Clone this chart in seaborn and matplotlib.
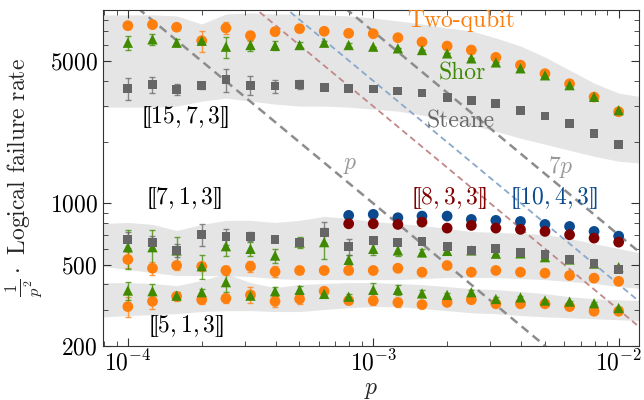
import numpy as np
import matplotlib
matplotlib.use("Agg")
import matplotlib.pyplot as plt
from matplotlib.ticker import FixedLocator, FixedFormatter, NullFormatter
import seaborn as sns

# physical error rate grid
p = [1.00e-4, 1.26e-4, 1.58e-4, 2.00e-4, 2.51e-4, 3.16e-4, 3.98e-4, 5.01e-4, 6.31e-4, 7.94e-4,
     1.00e-3, 1.26e-3, 1.58e-3, 2.00e-3, 2.51e-3, 3.16e-3, 3.98e-3, 5.01e-3, 6.31e-3, 7.94e-3, 1.00e-2]

# [[15,7,3]]
c15_two = [7470, 7560, 7340, 6300, 7280, 6670, 6980, 7220, 7010, 6850, 6820,
           6520, 6210, 5930, 5670, 5220, 4780, 4340, 3870, 3330, 2820]
c15_shor = [6160, 6400, 6160, 6300, 5890, 6000, 5950, 6000, 6160, 6000, 5890,
            5780, 5670, 5460, 5160, 4930, 4610, 4260, 3810, 3340, 2870]
c15_steane = [3673, 3845, 3630, 3780, 4070, 3810, 3770, 3845, 3715, 3673, 3645,
              3565, 3483, 3300, 3215, 3090, 2870, 2690, 2478, 2212, 1953]
e15_two = [0.04, 0.04, 0.03, 0.12, 0.07, 0.06, 0.04, 0.02, 0.02, 0.02, 0,
           0, 0, 0, 0, 0, 0, 0, 0, 0, 0]
e15_shor = [0.08, 0.06, 0.04, 0.03, 0.12, 0.06, 0.05, 0.03, 0.02, 0.02, 0,
            0, 0, 0, 0, 0, 0, 0, 0, 0, 0]
e15_steane = [0.12, 0.09, 0.06, 0.04, 0.13, 0.11, 0.07, 0.05, 0.03, 0.02, 0,
              0, 0, 0, 0, 0, 0, 0, 0, 0, 0]

# [[7,1,3]]
c7_steane = [665, 640, 587, 704, 688, 688, 663, 640, 722, 616, 657,
             645, 652, 616, 587, 598, 572, 561, 530, 508, 473]
c7_shor = [609, 609, 587, 491, 616, 598, 554, 642, 645, 528, 598,
           587, 574, 584, 587, 566, 568, 544, 530, 506, 486]
c7_two = [530, 480, 495, 490, 468, 490, 462, 468, 468, 468, 468,
          480, 459, 495, 459, 468, 459, 454, 442, 429, 414]
e7_steane = [0.09, 0.08, 0.07, 0.12, 0.09, 0.05, 0.03, 0.03, 0.12, 0.09, 0.04,
             0.02, 0.02, 0, 0, 0, 0, 0, 0, 0, 0]
e7_shor = [0.22, 0.22, 0.17, 0.13, 0.11, 0.08, 0.08, 0.06, 0.17, 0.06, 0.07,
           0.06, 0.04, 0.03, 0.02, 0.02, 0, 0, 0, 0, 0]
e7_two = [0.09, 0.07, 0.05, 0.05, 0.05, 0.06, 0.06, 0.04, 0.04, 0.04, 0.04,
          0.04, 0.04, 0.03, 0.02, 0.02, 0, 0, 0, 0, 0]

# [[5,1,3]]
c5_shor = [373, 370, 352, 366, 410, 352, 370, 376, 359, 348, 376,
           376, 361, 355, 366, 339, 345, 333, 329, 323, 306]
c5_two = [311, 330, 349, 336, 341, 355, 330, 339, 370, 333, 333,
          326, 318, 326, 336, 321, 321, 321, 311, 295, 295]
e5_shor = [0.10, 0.09, 0.04, 0.04, 0.11, 0.04, 0.05, 0.05, 0.03, 0.03, 0.08,
           0.06, 0.04, 0.02, 0.02, 0.02, 0.02, 0.01, 0.01, 0.01, 0.01]
e5_two = [0.11, 0.08, 0.05, 0.05, 0.05, 0.09, 0.06, 0.06, 0.03, 0.04, 0.05,
          0.05, 0.04, 0.02, 0.02, 0.02, 0.01, 0.01, 0.01, 0.01, 0.01]

# [[8,3,3]] and [[10,4,3]] start at p = 7.94e-4
p_hi = p[9:]
c8 = [794, 794, 788, 809, 756, 779, 756, 745, 728, 701, 675, 645]
c10 = [873, 883, 850, 866, 866, 834, 825, 815, 788, 770, 728, 690]

# shaded bands
band_p = [7.94e-5] + p + [1.26e-2]
band15_hi = [8440, 8440, 8440, 8340, 7620, 8530, 8630, 8530, 8530, 8440, 8340, 8150,
             7880, 7620, 7280, 7040, 6500, 5935, 5240, 4520, 3900, 3483, 3330]
band15_lo = [2970, 2970, 2970, 3005, 3180, 3290, 3180, 3075, 3005, 3005, 2970, 2905,
             2840, 2713, 2593, 2422, 2263, 2090, 1953, 1824, 1704, 1610, 1574]
band7_hi = [797, 806, 788, 736, 788, 825, 825, 806, 825, 863, 844, 815,
            797, 779, 753, 728, 720, 712, 704, 672, 635, 600, 567]
band7_lo = [490, 473, 457, 442, 442, 442, 437, 427, 422, 422, 422, 422,
            422, 427, 432, 432, 432, 427, 422, 413, 404, 390, 381]
band5_hi = [408, 408, 404, 394, 418, 452, 408, 386, 399, 404, 408, 408,
            404, 399, 390, 381, 377, 369, 360, 348, 340, 336, 333]
band5_lo = [277, 281, 284, 287, 294, 297, 297, 294, 294, 301, 307, 311,
            311, 304, 297, 290, 287, 281, 277, 274, 271, 268, 265]

# reference lines: failure rate = k * p
line_k = [1, 7, 3, 4]
line_p = np.array([7.0e-5, 1.3e-2])

ORANGE = "#ff7f0e"
GREEN = "#3f8a00"
GRAY = "#666666"
RED = "#800000"
BLUE = "#0b4a8f"

sns.set_style("ticks")
plt.rcParams.update({
    "font.family": "serif",
    "font.serif": ["cmr10"],
    "mathtext.fontset": "cm",
    "axes.formatter.use_mathtext": True,
    "axes.unicode_minus": False,
    "xtick.direction": "in",
    "ytick.direction": "in",
    "xtick.top": True,
    "ytick.right": True,
    "xtick.major.size": 6,
    "ytick.major.size": 6,
    "xtick.minor.size": 3.5,
    "ytick.minor.size": 3.5,
    "axes.edgecolor": "0.2",
    "xtick.color": "0.2",
    "ytick.color": "0.2",
    "xtick.labelcolor": "black",
    "ytick.labelcolor": "black",
})

fig = plt.figure(figsize=(6.44, 4.0), dpi=100)
ax = fig.add_axes([0.1595, 0.136, 0.8335, 0.839])
ax.set_xscale("log")
ax.set_yscale("log")

for lo, hi in [(band15_lo, band15_hi), (band7_lo, band7_hi), (band5_lo, band5_hi)]:
    ax.fill_between(band_p, lo, hi, color="0.78", alpha=0.45, lw=0, zorder=0)

line_colors = ["0.55", "0.55", "#c08888", "#88a8cc"]
line_widths = [1.8, 1.8, 1.3, 1.3]
for k, col, lw in zip(line_k, line_colors, line_widths):
    sns.lineplot(x=line_p, y=k / line_p, color=col, lw=lw, linestyle=(0, (3.5, 2.2)),
                 ax=ax, zorder=1)


def points(vals, errs, color, marker, size):
    vals = np.array(vals, dtype=float)
    if errs is not None:
        ax.errorbar(p[:len(vals)] if len(vals) == len(p) else p_hi, vals,
                    yerr=vals * np.array(errs), fmt="none", ecolor=color,
                    elinewidth=1.0, capsize=2.5, capthick=1.0, alpha=0.75, zorder=2)
    xs = p if len(vals) == len(p) else p_hi
    sns.scatterplot(x=xs, y=vals, color=color, marker=marker, s=size,
                    edgecolor="none", ax=ax, zorder=3)


points(c15_two, e15_two, ORANGE, "o", 60)
points(c15_shor, e15_shor, GREEN, "^", 55)
points(c15_steane, e15_steane, GRAY, "s", 40)
points(c7_two, e7_two, ORANGE, "o", 60)
points(c7_shor, e7_shor, GREEN, "^", 55)
points(c7_steane, e7_steane, GRAY, "s", 40)
points(c5_two, e5_two, ORANGE, "o", 60)
points(c5_shor, e5_shor, GREEN, "^", 55)
points(c10, None, BLUE, "o", 60)
points(c8, None, RED, "o", 60)

ax.set_xlim(7.9e-5, 1.216e-2)
ax.set_ylim(200, 8920)

ax.yaxis.set_major_locator(FixedLocator([200, 500, 1000, 5000]))
ax.yaxis.set_major_formatter(FixedFormatter(["$200$", "$500$", "$1000$", "$5000$"]))
ax.yaxis.set_minor_formatter(NullFormatter())
ax.tick_params(labelsize=17)

ax.set_xlabel("$p$", fontsize=17, labelpad=2)
ax.set_ylabel(r"$\frac{1}{p^2}\cdot$ Logical failure rate", fontsize=17, labelpad=4)

fs = 17
ax.text(2.28e-3, 7870, "Two-qubit", color=ORANGE, fontsize=fs, ha="center", va="center")
ax.text(2.30e-3, 4365, "Shor", color=GREEN, fontsize=fs, ha="center", va="center")
ax.text(2.28e-3, 2535, "Steane", color=GRAY, fontsize=fs, ha="center", va="center")
ax.text(1.69e-4, 2652, "$⟦15,7,3⟧$", color="black", fontsize=fs, ha="center", va="center")
ax.text(1.68e-4, 1058, "$⟦7,1,3⟧$", color="black", fontsize=fs, ha="center", va="center")
ax.text(1.71e-4, 251, "$⟦5,1,3⟧$", color="black", fontsize=fs, ha="center", va="center")
ax.text(2.02e-3, 1058, "$⟦8,3,3⟧$", color=RED, fontsize=fs, ha="center", va="center")
ax.text(5.40e-3, 1058, "$⟦10,4,3⟧$", color=BLUE, fontsize=fs, ha="center", va="center")
ax.text(8.04e-4, 1539, "$p$", color="0.6", fontsize=fs, ha="center", va="center")
ax.text(5.82e-3, 1503, "$7p$", color="0.6", fontsize=fs, ha="center", va="center")

fig.savefig("out.png", dpi=100)
